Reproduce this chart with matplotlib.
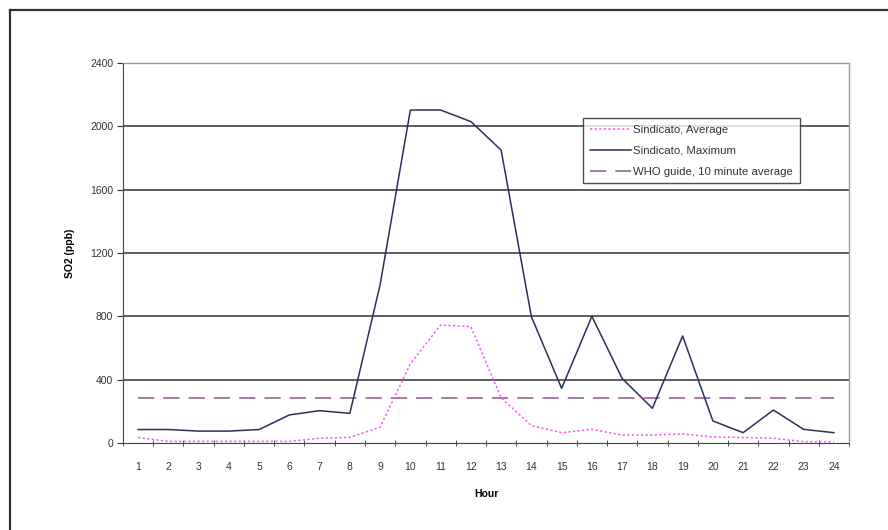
import matplotlib
matplotlib.use("Agg")
from matplotlib import pyplot as plt
from matplotlib.lines import Line2D
import numpy as np

plt.rcParams['font.family'] = ['Liberation Sans', 'DejaVu Sans']

# hourly SO2 readings (ppb)
hours = list(range(1, 25))
sindicato_avg = [35, 10, 10, 10, 10, 10, 30, 35, 100, 500, 745, 735,
                 285, 110, 65, 86, 50, 50, 57, 38, 35, 30, 8, 8]
sindicato_max = [85, 85, 75, 75, 85, 177, 204, 187, 1000, 2103, 2103, 2030,
                 1850, 798, 345, 800, 408, 219, 676, 139, 65, 208, 86, 65]
who_guide = [285] * 24
y_ticks = [0, 400, 800, 1200, 1600, 2000, 2400]

fig = plt.figure(figsize=(8.88, 5.30), dpi=100)
ax = fig.add_axes([0.1385, 0.1642, 0.8176, 0.7169])

for v in y_ticks[1:]:
    ax.axhline(v, color='#333333', lw=1.1, zorder=1)

ax.plot(hours, sindicato_avg, color='#ff55ff', lw=1.1, ls=(0, (1.5, 1.5)),
        label='Sindicato, Average', zorder=3)
ax.plot(hours, sindicato_max, color='#2b2f5c', lw=1.1,
        label='Sindicato, Maximum', zorder=3)
ax.plot(hours, who_guide, color='#a0709a', lw=1.3, ls=(0, (9, 5)),
        label='WHO guide, 10 minute average', zorder=2)

ax.set_xlim(0.5, 24.5)
ax.set_ylim(0, 2400)
ax.set_yticks(y_ticks)
ax.set_xticks(hours)
ax.set_xticks(np.arange(0.5, 25, 1), minor=True)
ax.tick_params(axis='x', which='major', length=0, labelsize=7.5, colors='#333333', pad=14)
ax.tick_params(axis='x', which='minor', length=4, direction='inout', color='#333333')
ax.tick_params(axis='y', length=4, labelsize=7.5, colors='#333333', pad=3)

for side in ['top', 'right']:
    ax.spines[side].set_color('#999999')
    ax.spines[side].set_linewidth(1)
ax.spines['left'].set_color('#444444')
ax.spines['bottom'].set_color('#444444')

ax.set_xlabel('Hour', fontsize=7.5, fontweight='bold', labelpad=12)
ax.set_ylabel('SO2 (ppb)', fontsize=7.5, fontweight='bold', labelpad=11)

leg = ax.legend(loc='upper left', bbox_to_anchor=(0.6336, 0.855), fontsize=8.2,
                frameon=True, fancybox=False, edgecolor='#222222',
                handlelength=3.6, handletextpad=0.2, labelspacing=0.95,
                borderpad=0.6, borderaxespad=0)
leg.get_frame().set_linewidth(1)
for t in leg.get_texts():
    t.set_color('#333333')

# outer frame, only top and left edges show
fig.add_artist(Line2D([0.0113, 0.0113], [0, 0.981], color='#333333', lw=1.6))
fig.add_artist(Line2D([0.0113, 1], [0.981, 0.981], color='#333333', lw=1.6))

fig.savefig('out.png', dpi=100)
